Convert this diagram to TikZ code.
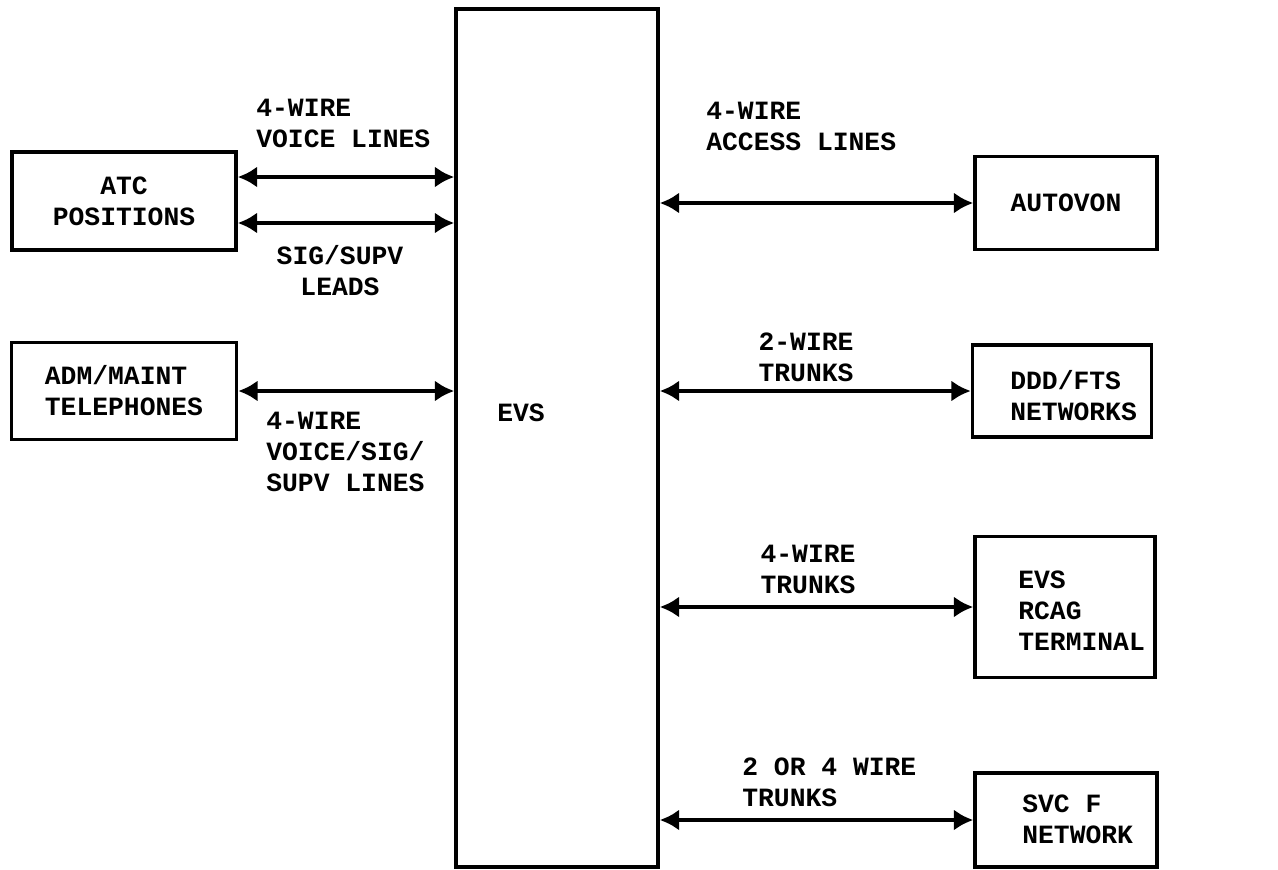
\documentclass[tikz,border=0pt]{standalone}
\usepackage{fontspec}
\setmonofont{Liberation Mono}
\usetikzlibrary{arrows.meta,positioning}

\begin{document}
\begin{tikzpicture}[x=0.02cm, y=-0.02cm,
    box/.style={draw, line width=2pt, inner sep=0pt},
    link/.style={{Latex[length=11pt,width=12pt]}-{Latex[length=11pt,width=12pt]}, line width=2.6pt},
    tag/.style={align=left, inner sep=0pt},
    every node/.style={font=\ttfamily\bfseries\fontsize{15}{17.6}\selectfont}
]
    \useasboundingbox (0,0) rectangle (1278,869);

    % switch
    \node[box, minimum width=4.04cm, minimum height=17.16cm] (evs) at (557,438) {};
    \node[tag] (evstxt) at (521,413) {EVS};

    % local equipment
    \node[box, minimum width=4.48cm, minimum height=1.96cm, align=center] (atc) at (124,201) {ATC\\POSITIONS};
    \node[box, minimum width=4.5cm, minimum height=1.94cm, align=left] (adm) at (124,391) {ADM/MAINT\\TELEPHONES};

    % networks
    \node[box, minimum width=3.64cm, minimum height=1.86cm] (autovon) at (1066,203) {AUTOVON};
    \node[box, minimum width=3.58cm, minimum height=1.84cm] (ddd) at (1062,391) {};
    \node[tag, anchor=west] (dddtxt) at (1010,396) {DDD/FTS\\NETWORKS};
    \node[box, minimum width=3.6cm, minimum height=2.82cm] (rcag) at (1065,607) {};
    \node[tag, anchor=west] (rcagtxt) at (1018,611) {EVS\\RCAG\\TERMINAL};
    \node[box, minimum width=3.64cm, minimum height=1.88cm] (svc) at (1066,820) {};
    \node[tag, anchor=west] (svctxt) at (1022,819) {SVC F\\NETWORK};

    % lines
    \coordinate (voice) at ([yshift=0.48cm]atc.east);
    \coordinate (sig) at ([yshift=-0.44cm]atc.east);
    \draw[link] (voice) -- (voice -| evs.west);
    \draw[link] (sig) -- (sig -| evs.west);
    \draw[link] (adm.east) -- (adm.east -| evs.west);
    \draw[link] (evs.east |- autovon.west) -- (autovon.west);
    \draw[link] (evs.east |- ddd.west) -- (ddd.west);
    \draw[link] (evs.east |- rcag.west) -- (rcag.west);
    \draw[link] (evs.east |- svc.west) -- (svc.west);

    \node[tag, anchor=west] (voicelbl) at (256,123) {4-WIRE\\VOICE LINES};
    \node[tag, align=center] (siglbl) at (340,271) {SIG/SUPV\\LEADS};
    \node[tag, anchor=west] (admlbl) at (266,452) {4-WIRE\\VOICE/SIG/\\SUPV LINES};
    \node[tag, anchor=west] (accesslbl) at (706,126) {4-WIRE\\ACCESS LINES};
    \node[tag, align=center] (twolbl) at (806,357) {2-WIRE\\TRUNKS};
    \node[tag, align=center] (fourlbl) at (808,569) {4-WIRE\\TRUNKS};
    \node[tag, anchor=west] (svclbl) at (742,782) {2 OR 4 WIRE\\TRUNKS};
\end{tikzpicture}
\end{document}
